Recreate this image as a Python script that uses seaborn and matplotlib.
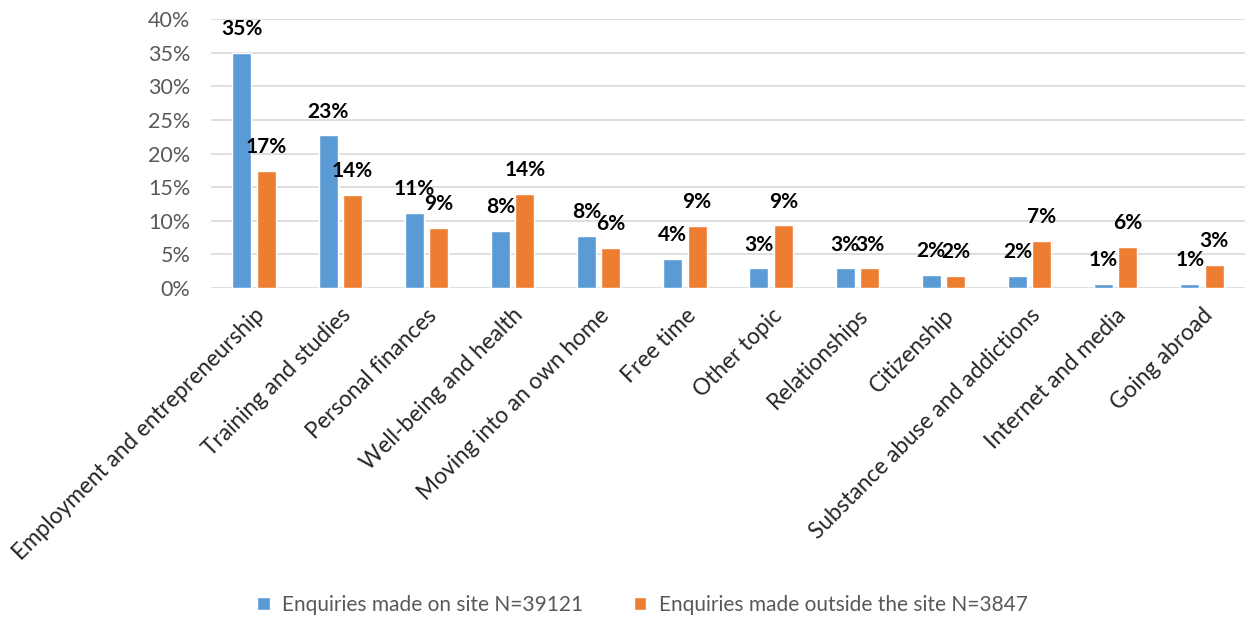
import matplotlib
matplotlib.use('Agg')
import matplotlib.pyplot as plt
import seaborn as sns
import pandas as pd

# данные с графика (в процентах)
topics = [
    'Employment and entrepreneurship', 'Training and studies', 'Personal finances',
    'Well-being and health', 'Moving into an own home', 'Free time', 'Other topic',
    'Relationships', 'Citizenship', 'Substance abuse and addictions',
    'Internet and media', 'Going abroad',
]
on_site = [35.0, 22.7, 11.2, 8.5, 7.7, 4.3, 2.9, 2.9, 1.9, 1.8, 0.6, 0.6]
outside = [17.4, 13.8, 9.0, 14.0, 5.9, 9.2, 9.3, 2.9, 1.8, 7.0, 6.1, 3.4]
series = ['Enquiries made on site N=39121', 'Enquiries made outside the site N=3847']
colors = ['#5b9bd5', '#ed7d31']

df = pd.DataFrame({
    'topic': topics * 2,
    'share': on_site + outside,
    'series': [series[0]] * len(topics) + [series[1]] * len(topics),
})

sns.set_style('white')
plt.rcParams['font.family'] = ['Lato', 'DejaVu Sans']

fig = plt.figure(figsize=(12.5, 6.18), dpi=100)
ax = fig.add_axes([0.1688, 0.534, 0.8272, 0.435])

sns.barplot(df, x='topic', y='share', hue='series', palette=colors,
            width=0.565, gap=0.22, saturation=1, ax=ax)

# подписи над столбцами
for cont, vals in zip(ax.containers, [on_site, outside]):
    ax.bar_label(cont, labels=[f'{round(v)}%' for v in vals], padding=10,
                 fontsize=15, fontweight='bold', color='black')

# сетка и оси
ax.set_ylim(0, 40)
ax.set_xlim(-0.5, 11.5)
ax.set_yticks(range(0, 41, 5))
ax.set_yticklabels([f'{t}%' for t in range(0, 41, 5)])
ax.yaxis.grid(True, color='#d9d9d9', linewidth=1.2)
ax.set_axisbelow(True)
for s in ax.spines.values():
    s.set_visible(False)
ax.tick_params(axis='y', length=0, pad=15, labelsize=15.5, labelcolor='#595959')
ax.tick_params(axis='x', length=0, pad=12, labelsize=16.3, labelcolor='#262626')
plt.setp(ax.get_xticklabels(), rotation=45, ha='right', rotation_mode='anchor')
ax.set_xlabel('')
ax.set_ylabel('')

# легенда внизу
handles, labels = ax.get_legend_handles_labels()
ax.get_legend().remove()
fig.legend(handles, labels, loc='center', bbox_to_anchor=(0.514, 0.021), ncol=2,
           frameon=False, fontsize=15, labelcolor='#595959', handlelength=0.6,
           handleheight=0.6, columnspacing=2.4, handletextpad=0.6)

plt.savefig('out.png', dpi=100)
